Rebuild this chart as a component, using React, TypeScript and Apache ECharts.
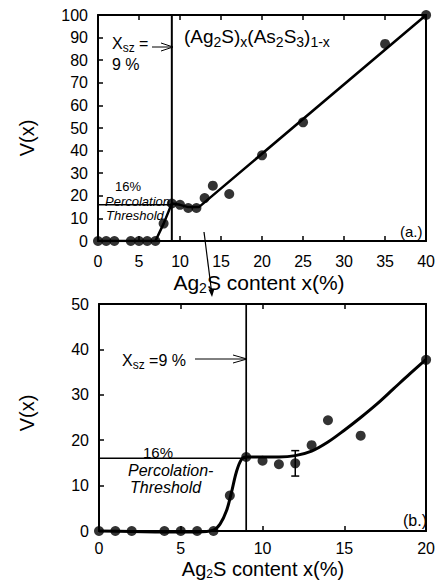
import React, { useEffect, useRef } from "react";
import * as echarts from "echarts";

// ---------- data ----------
// Panel (a): full range 0–40 %
const contentA = [0, 1, 2, 4, 5, 6, 7, 8, 9, 10, 11, 12, 13, 14, 16, 20, 25, 35, 40];
const vA = [0, 0, 0, 0, 0, 0, 0, 7.7, 16.6, 16.0, 14.6, 14.6, 19.0, 24.5, 20.8, 37.9, 52.5, 87.2, 100];
const fitAX = [0, 7, 8, 9, 10, 11, 12, 12.3, 40];
const fitAY = [0, 0, 7.7, 16.6, 16.0, 15.0, 15.0, 15.0, 100];

// Panel (b): zoom 0–20 %
const contentB = [0, 1, 2, 4, 5, 6, 7, 8, 9, 10, 11, 12, 13, 14, 16, 20];
const vB = [0, 0, 0, 0, 0, 0, 0, 7.8, 16.3, 15.5, 14.7, 14.9, 18.9, 24.4, 21.0, 37.7];
const errX = [12];
const errLow = [12.1];
const errHigh = [17.7];
const fitBX = [0, 2, 4, 6, 7, 7.4, 7.8, 8.1, 8.4, 8.7, 9.0, 10, 11, 12, 13, 14, 15, 16, 17, 18, 19, 20];
const fitBY = [0, -0.1, -0.2, -0.2, 0.2, 1.5, 4.5, 8.5, 13, 15.7, 16.3, 16.3, 16.3, 16.6, 17.6, 19.6, 22.2, 25, 28, 31.3, 34.6, 37.8];

const xsz = 9; // percolation concentration
const threshold = 16; // percolation threshold V(x)
const rangeA = { xMin: 0, xMax: 40, xStep: 5, yMin: 0, yMax: 100, yStep: 10 };
const rangeB = { xMin: 0, xMax: 20, xStep: 5, yMin: 0, yMax: 50, yStep: 10 };

const FONT = '"Liberation Sans", Arial, Helvetica, sans-serif';

const zip = (xs: number[], ys: number[]) => xs.map((x, i) => [x, ys[i]]);

let measureCtx: CanvasRenderingContext2D | null = null;
function measure(text: string, size: number, italic = false) {
  if (!measureCtx) measureCtx = document.createElement("canvas").getContext("2d");
  if (!measureCtx) return text.length * size * 0.55;
  measureCtx.font = `${italic ? "italic " : ""}${size}px ${FONT}`;
  return measureCtx.measureText(text).width;
}

function axesFor(gridIndex: number, r: typeof rangeA, xMargin: number) {
  const line = { show: true, onZero: false, lineStyle: { color: "#000", width: 2 } };
  const tick = { show: true, inside: true, length: 5, lineStyle: { color: "#000", width: 1.5 } };
  const label = { color: "#000", fontSize: 16, fontFamily: FONT };
  const x = [
    {
      type: "value", gridIndex, position: "bottom", min: r.xMin, max: r.xMax, interval: r.xStep,
      axisLine: line, axisTick: tick, axisLabel: { ...label, margin: xMargin }, splitLine: { show: false },
    },
    {
      type: "value", gridIndex, position: "top", min: r.xMin, max: r.xMax, interval: r.xStep,
      axisLine: line, axisTick: tick, axisLabel: { show: false }, splitLine: { show: false },
    },
  ];
  const y = [
    {
      type: "value", gridIndex, position: "left", min: r.yMin, max: r.yMax, interval: r.yStep,
      axisLine: line, axisTick: tick, axisLabel: { ...label, margin: 10 }, splitLine: { show: false },
    },
    {
      type: "value", gridIndex, position: "right", min: r.yMin, max: r.yMax, interval: r.yStep,
      axisLine: line, axisTick: { show: false }, axisLabel: { show: false }, splitLine: { show: false },
    },
  ];
  return { x, y };
}

function txt(left: number, y: number, text: string, size: number, opts: any = {}) {
  return {
    type: "text",
    x: left,
    y,
    silent: true,
    rotation: opts.rotation || 0,
    style: {
      text,
      fill: "#000",
      fontFamily: FONT,
      fontSize: size,
      fontStyle: opts.italic ? "italic" : "normal",
      align: opts.align || "left",
      verticalAlign: "middle",
    },
  };
}

// text with subscripts: segments of [text, isSub]
function subText(x: number, y: number, segs: [string, boolean][], main: number, sub: number, center = false, subDy?: number) {
  const widths = segs.map(([t, s]) => measure(t, s ? sub : main));
  const total = widths.reduce((a, b) => a + b, 0);
  let cursor = center ? x - total / 2 : x;
  const dy = subDy ?? main * 0.3;
  const children: any[] = [];
  segs.forEach(([t, s], i) => {
    children.push({
      type: "text",
      x: cursor,
      y: s ? y + dy : y,
      silent: true,
      style: {
        text: t, fill: "#000", fontFamily: FONT, fontSize: s ? sub : main,
        align: "left", verticalAlign: "middle",
      },
    });
    cursor += widths[i];
  });
  return { type: "group", silent: true, children };
}

function openArrow(x1: number, x2: number, y: number, head: number, half: number) {
  return [
    { type: "line", silent: true, shape: { x1, y1: y, x2, y2: y }, style: { stroke: "#000", lineWidth: 1 } },
    {
      type: "polyline", silent: true,
      shape: { points: [[x2 - head, y - half], [x2, y], [x2 - head, y + half]] },
      style: { stroke: "#000", lineWidth: 1, fill: null },
    },
  ];
}

export default function App() {
  const ref = useRef<HTMLDivElement>(null);

  useEffect(() => {
    if (!ref.current) return;
    const chart = echarts.init(ref.current, undefined, { renderer: "svg" });
    const A = axesFor(0, rangeA, 12);
    const B = axesFor(1, rangeB, 9);

    const errData = errX.map((x, i) => [x, errLow[i], errHigh[i]]);
    const xTitle: [string, boolean][] = [["Ag", false], ["2", true], ["S content x(%)", false]];

    const option: any = {
      animation: false,
      backgroundColor: "#fff",
      grid: [
        { left: 98, top: 15, width: 332, height: 226, containLabel: false },
        { left: 99, top: 304, width: 332, height: 227, containLabel: false },
      ],
      xAxis: [...A.x, ...B.x],
      yAxis: [...A.y, ...B.y],
      series: [
        // ---- panel (a) ----
        {
          type: "line", xAxisIndex: 0, yAxisIndex: 0, data: [[xsz, rangeA.yMin], [xsz, rangeA.yMax]],
          symbol: "none", lineStyle: { color: "#000", width: 2 }, silent: true,
        },
        {
          type: "line", xAxisIndex: 0, yAxisIndex: 0, data: [[0, threshold], [xsz, threshold]],
          symbol: "none", lineStyle: { color: "#000", width: 1.5 }, silent: true,
        },
        {
          type: "line", xAxisIndex: 0, yAxisIndex: 0, data: zip(fitAX, fitAY),
          symbol: "none", lineStyle: { color: "#000", width: 2.5 }, silent: true,
        },
        {
          type: "scatter", xAxisIndex: 0, yAxisIndex: 0, data: zip(contentA, vA),
          symbolSize: 10, itemStyle: { color: "#000" }, clip: false, z: 5,
        },
        // ---- panel (b) ----
        {
          type: "line", xAxisIndex: 2, yAxisIndex: 2, data: [[xsz, rangeB.yMin], [xsz, rangeB.yMax]],
          symbol: "none", lineStyle: { color: "#000", width: 1.7 }, silent: true,
        },
        {
          type: "line", xAxisIndex: 2, yAxisIndex: 2, data: [[0, threshold], [xsz, threshold]],
          symbol: "none", lineStyle: { color: "#000", width: 1.5 }, silent: true,
        },
        {
          type: "line", xAxisIndex: 2, yAxisIndex: 2, data: zip(fitBX, fitBY),
          symbol: "none", smooth: 0.35, clip: false,
          lineStyle: { color: "#000", width: 3 }, silent: true,
        },
        {
          type: "custom", xAxisIndex: 2, yAxisIndex: 2, data: errData,
          encode: { x: 0, y: [1, 2] }, silent: true, z: 4,
          renderItem: (_params: any, api: any) => {
            const x = api.value(0);
            const lo = api.coord([x, api.value(1)]);
            const hi = api.coord([x, api.value(2)]);
            const w = 4;
            const st = { stroke: "#000", lineWidth: 1.5 };
            return {
              type: "group",
              children: [
                { type: "line", shape: { x1: lo[0], y1: lo[1], x2: hi[0], y2: hi[1] }, style: st },
                { type: "line", shape: { x1: lo[0] - w, y1: lo[1], x2: lo[0] + w, y2: lo[1] }, style: st },
                { type: "line", shape: { x1: hi[0] - w, y1: hi[1], x2: hi[0] + w, y2: hi[1] }, style: st },
              ],
            };
          },
        },
        {
          type: "scatter", xAxisIndex: 2, yAxisIndex: 2, data: zip(contentB, vB),
          symbolSize: 10, itemStyle: { color: "#000" }, clip: false, z: 5,
        },
      ],
      graphic: [
        // axis titles
        txt(27, 138, "V(x)", 20, { align: "center", rotation: Math.PI / 2 }),
        txt(27, 413, "V(x)", 20, { align: "center", rotation: Math.PI / 2 }),
        subText(259, 282, xTitle, 21, 14, true),
        subText(263, 569, xTitle, 20, 12, true, 5),
        // panel (a) annotations
        subText(184, 36, [["(Ag", false], ["2", true], ["S)", false], ["x", true], ["(As", false], ["2", true], ["S", false], ["3", true], [")", false], ["1-x", true]], 19, 14),
        subText(112, 43, [["X", false], ["sz", true], [" =", false]], 16, 12),
        txt(112, 64, "9 %", 16),
        ...openArrow(152, 173, 47, 12, 4),
        txt(115, 186, "16%", 13),
        txt(105, 201, "Percolation", 13, { italic: true }),
        txt(106, 215, "Threshold", 13, { italic: true }),
        txt(400, 231, "(a.)", 15),
        // connecting arrow between panels
        { type: "line", silent: true, shape: { x1: 204, y1: 232, x2: 211.5, y2: 291 }, style: { stroke: "#000", lineWidth: 1.2 } },
        { type: "polygon", silent: true, shape: { points: [[212, 297], [214.5, 288.7], [208.5, 289.4]] }, style: { fill: "#000" } },
        // panel (b) annotations
        subText(122, 360, [["X", false], ["sz", true], [" =9 %", false]], 16, 12),
        ...openArrow(195, 247, 359, 14, 4),
        txt(143, 452, "16%", 15),
        txt(128, 470, "Percolation-", 16, { italic: true }),
        txt(130, 487, "Threshold", 16, { italic: true }),
        txt(403, 520, "(b.)", 16),
      ],
    };
    chart.setOption(option);
    return () => chart.dispose();
  }, []);

  return (
    <div
      ref={ref}
      style={{ position: "fixed", left: 0, top: 0, width: 438, height: 582, background: "#fff" }}
    />
  );
}
